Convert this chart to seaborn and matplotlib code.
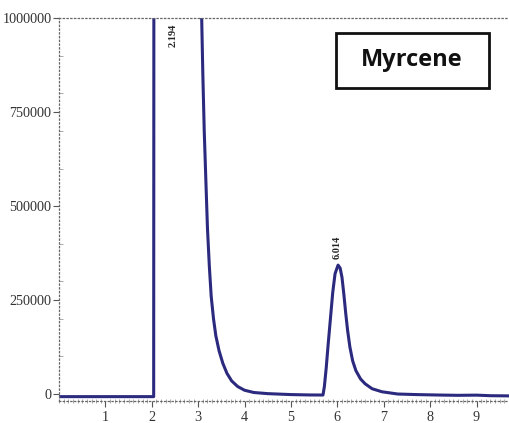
#!/usr/bin/env python3
"""Myrcene chromatogram recreated with seaborn."""

import matplotlib

matplotlib.use("Agg")
import matplotlib.pyplot as plt
import pandas as pd
import seaborn as sns
from matplotlib.patches import Rectangle
from matplotlib.ticker import MultipleLocator

# Retention time (min) and detector response
retention_time = [
    0.0, 1.0, 2.04, 2.05, 3.0, 3.075, 3.10, 3.13, 3.17, 3.20, 3.24, 3.28,
    3.33, 3.38, 3.45, 3.53, 3.62, 3.72, 3.85, 4.0, 4.2, 4.5, 5.0, 5.4,
    5.69, 5.72, 5.76, 5.80, 5.85, 5.90, 5.95, 6.015, 6.06, 6.10, 6.14,
    6.18, 6.22, 6.27, 6.33, 6.40, 6.50, 6.60, 6.75, 6.96, 7.3, 7.7, 8.18,
    8.6, 9.0, 9.3, 9.7,
]
response = [
    -7000, -7000, -7000, 2500000, 2500000, 1000000, 850000, 700000, 550000,
    440000, 340000, 260000, 200000, 155000, 115000, 82000, 55000, 35000,
    20000, 10000, 4000, 1000, -1500, -2500,
    -2700, 20000, 70000, 130000, 200000, 270000, 320000, 343000, 335000,
    310000, 265000, 215000, 170000, 125000, 88000, 62000, 40000, 27000,
    14000, 6000, 0, -1500, -2700, -3500, -3000, -4500, -5000,
]

peak_times = [2.194, 6.014]
peak_label_pos = [(2.45, 985000), (6.0, 358000)]
sample_name = "Myrcene"

LINE_COLOR = "#2b2a7e"
SERIF = ["Liberation Serif", "DejaVu Serif"]

df = pd.DataFrame({"time": retention_time, "signal": response})

sns.set_style("white")

fig = plt.figure(figsize=(5.09, 4.23), dpi=100)
ax = fig.add_axes([0.116, 0.052, 0.884, 0.905])

sns.lineplot(
    data=df, x="time", y="signal", sort=False, color=LINE_COLOR,
    linewidth=2.2, ax=ax,
)

ax.set_xlim(0, 9.7)
ax.set_ylim(-18600, 1000000)
ax.set_xlabel("")
ax.set_ylabel("")

# Peak annotations
for label, (px, py) in zip(peak_times, peak_label_pos):
    ax.text(
        px, py, f"{label:.3f}", rotation=90, ha="center",
        va="top" if py > 900000 else "bottom",
        fontsize=7.5, fontweight="bold", family=SERIF,
    )

# Ticks
ax.set_xticks(range(1, 10))
ax.set_yticks([0, 250000, 500000, 750000, 1000000])
ax.set_yticklabels(["0", "250000", "500000", "750000", "1000000"])
ax.xaxis.set_minor_locator(MultipleLocator(0.1))
ax.yaxis.set_minor_locator(MultipleLocator(100000))
ax.tick_params(axis="both", which="major", direction="out", length=4,
               width=0.8, color="#555555", labelsize=10.2, pad=1.5)
ax.tick_params(axis="x", which="major", pad=3)
ax.tick_params(axis="x", which="minor", direction="inout", length=3,
               width=0.5, color="#888888")
ax.tick_params(axis="y", which="minor", direction="in", length=3,
               width=0.5, color="#888888")
ax.tick_params(bottom=True, left=True, which="both")
for lbl in ax.get_xticklabels() + ax.get_yticklabels():
    lbl.set_family(SERIF)
    lbl.set_color("#333333")

# Dotted frame
for side in ["left", "top", "bottom"]:
    ax.spines[side].set_linestyle((0, (1, 2)))
    ax.spines[side].set_color("#666666")
    ax.spines[side].set_linewidth(0.9)
ax.spines["right"].set_visible(False)

# Sample name box
fig.patches.append(
    Rectangle((0.660, 0.792), 0.3006, 0.130, transform=fig.transFigure,
              fill=False, edgecolor="#111111", linewidth=2)
)
fig.text(0.809, 0.858, sample_name, ha="center", va="center",
         fontsize=17, fontweight="bold", family=["Open Sans", "DejaVu Sans"],
         color="#111111")

fig.savefig("out.png", dpi=100)
